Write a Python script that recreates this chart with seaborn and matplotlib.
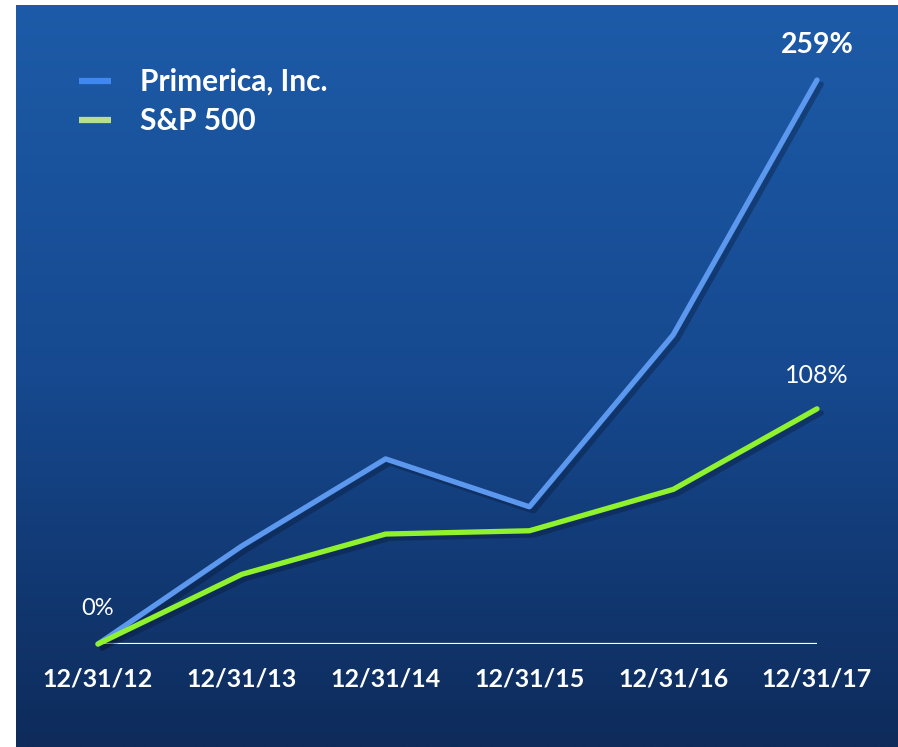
import numpy as np
import pandas as pd
import matplotlib
matplotlib.use("Agg")
import matplotlib.pyplot as plt
import matplotlib.patheffects as pe
from matplotlib.colors import LinearSegmentedColormap
from matplotlib.lines import Line2D
import seaborn as sns

dates = ["12/31/12", "12/31/13", "12/31/14", "12/31/15", "12/31/16", "12/31/17"]
primerica = [0, 45, 85, 63, 142, 259]
sp500 = [0, 32, 50.5, 52, 71, 108]
series_names = ["Primerica, Inc.", "S&P 500"]

sns.set_theme(style="white")
plt.rcParams["font.family"] = ["Lato", "DejaVu Sans"]

W, H = 898, 747
fig = plt.figure(figsize=(W / 100, H / 100), dpi=100)
fig.patch.set_facecolor("white")

# gradient background panel
bg = fig.add_axes([16 / W, 0, (W - 16) / W, (H - 5) / H])
cmap = LinearSegmentedColormap.from_list("bg", ["#1d5ba8", "#16498f", "#0e2b5b"])
grad = np.linspace(0, 1, 256).reshape(-1, 1)
bg.imshow(grad, aspect="auto", cmap=cmap, extent=[0, 1, 0, 1], origin="upper")
bg.set_axis_off()

# main axes
x0, x1 = 98, 817
y0, y1 = 644, 80
ax = fig.add_axes([x0 / W, (H - y0) / H, (x1 - x0) / W, (y0 - y1) / H])
ax.patch.set_alpha(0)

df = pd.DataFrame({
    "x": list(range(len(dates))) * 2,
    "value": primerica + sp500,
    "series": [series_names[0]] * len(dates) + [series_names[1]] * len(dates),
})
palette = {series_names[0]: "#5b98ee", series_names[1]: "#8ff22c"}
sns.lineplot(data=df, x="x", y="value", hue="series", palette=palette,
             linewidth=3.8, ax=ax, legend=False, sort=False)
for ln in ax.get_lines():
    ln.set_clip_on(False)
    ln.set_solid_capstyle("round")
    ln.set_path_effects([pe.SimpleLineShadow(offset=(3, -3), alpha=0.35, shadow_color="#08152e"),
                         pe.Normal()])

ax.set_xlim(0, len(dates) - 1)
ax.set_ylim(0, 259)
ax.axhline(0, color="white", lw=1.6, zorder=1)
for s in ax.spines.values():
    s.set_visible(False)
ax.set_yticks([])
ax.set_xticks(range(len(dates)))
ax.set_xticklabels(dates, color="white", fontsize=18, fontweight="bold")
ax.tick_params(axis="x", length=0, pad=17)
ax.set_xlabel("")
ax.set_ylabel("")

ax.annotate("0%", (0, 0), xytext=(0, 18), textcoords="offset points",
            ha="center", va="bottom", color="white", fontsize=17)
ax.annotate(f"{primerica[-1]:.0f}%", (5, primerica[-1]), xytext=(0, 16), textcoords="offset points",
            ha="center", va="bottom", color="white", fontsize=20.5, fontweight="bold")
ax.annotate(f"{sp500[-1]:.0f}%", (5, sp500[-1]), xytext=(0, 16), textcoords="offset points",
            ha="center", va="bottom", color="white", fontsize=18)

handles = [Line2D([0], [0], color="#3f88f2", lw=4.5, solid_capstyle="butt"),
           Line2D([0], [0], color="#b8e08c", lw=4.5, solid_capstyle="butt")]
leg = fig.legend(handles, series_names, loc="upper left",
                 bbox_to_anchor=(79 / W, 1 - 68 / H), frameon=False,
                 borderaxespad=0, borderpad=0,
                 handlelength=1.07, handletextpad=0.97, labelspacing=0.38,
                 prop={"size": 21.5, "weight": "bold"})
for t in leg.get_texts():
    t.set_color("white")

fig.savefig("out.png", dpi=100, facecolor=fig.get_facecolor())
